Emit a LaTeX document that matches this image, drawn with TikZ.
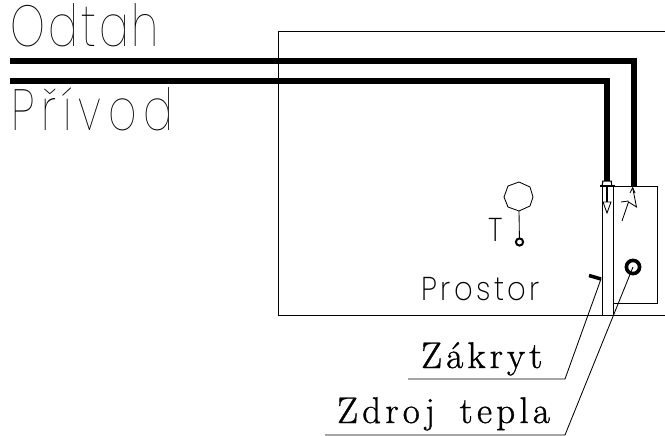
\documentclass[tikz,border=0pt]{standalone}
\usepackage{fontspec}
\newfontfamily\thinfont[LetterSpace=5.5,FakeStretch=0.76]{Poppins Thin}
\newfontfamily\thinwidefont[LetterSpace=12,FakeStretch=0.76]{Poppins Thin}
\newfontfamily\midfont[LetterSpace=10.5,FakeStretch=0.88]{Poppins ExtraLight}
\newfontfamily\labelfont[LetterSpace=11.5,FakeBold=1]{Latin Modern Roman}
\usepackage{tikz}

\begin{document}
\begin{tikzpicture}
	[x=1pt, y=-1pt, line cap=butt,
	every node/.style={inner sep=0pt, anchor=base west},
	wall/.style={draw, line width=0.85pt},
	pipe/.style={draw, line width=5.5pt, line join=miter},
	leader/.style={draw, line width=0.85pt},
	bigtext/.style={font=\thinfont\fontsize{58}{58}\selectfont},
	bigwidetext/.style={font=\thinwidefont\fontsize{58}{58}\selectfont},
	midtext/.style={font=\midfont\fontsize{33}{33}\selectfont},
	labeltext/.style={font=\labelfont\fontsize{37}{37}\selectfont}]
	\useasboundingbox (0,0) rectangle (665,436);
	% room
	\draw[wall] (665,31) -| (278,315) -- (665,315);
	% shield and heater
	\draw[wall] (602,186) -- (602,315);
	\draw[wall] (613,186) -- (613,315);
	\draw[wall] (602,186) -- (657,186) -- (657,303) -- (613,303);
	% pipes
	\coordinate (odtahstart) at (10,61);
	\coordinate (odtahend) at (634,186);
	\coordinate (privodstart) at (10,81);
	\coordinate (privodend) at (607,181);
	\draw[pipe] (odtahstart) -| (odtahend);
	\draw[pipe] (privodstart) -| (privodend);
	% valve
	\draw[line width=1.5pt] (600,186) -- (615,186);
	\draw[line width=1pt] (602,181) -- (612,181) (603,181) -- (602,186) (611,181) -- (612,186);
	% flow arrow
	\draw[line width=1.1pt] (607,186) -- (607,203);
	\draw[line width=0.85pt, fill=white] (603,202) -- (611,202) -- (607,213) -- cycle;
	% flame
	\draw[line width=0.85pt] (622,221) -- (628.5,202) -- (636.5,207) -- (632.7,188);
	\draw[line width=0.85pt] (621,202) -- (628.5,201);
	\draw[line width=0.85pt] (630,193) -- (632.7,187.7) -- (635,193);
	% sensor
	\coordinate (sensortop) at (519,211);
	\coordinate (sensorbulb) at (519.5,242);
	\draw[wall] (519,182) -- (530,187) -- (533,197) -- (530,206) -- (519,211) -- (508,207) -- (504,197) -- (508,186) -- cycle;
	\draw[wall] (sensortop) -- (sensorbulb);
	\draw[line width=2pt, fill=white] (sensorbulb) circle (3.6);
	% heat source and shield mark
	\coordinate (source) at (633,267);
	\coordinate (mark) at (601,279);
	\draw[line width=3.6pt] (source) circle (6.6);
	\draw[line width=3.5pt] (589,275.5) -- (mark);
	% leaders
	\coordinate (zakrytknee) at (565,379);
	\coordinate (zakrytend) at (408,379);
	\coordinate (zdrojknee) at (565,435);
	\coordinate (zdrojend) at (325,435);
	\draw[leader] (mark) -- (zakrytknee) -- (zakrytend);
	\draw[leader] (source) -- (zdrojknee) -- (zdrojend);
	% texts
	\node[bigtext] (odtah) at (10,47) {Odtah};
	\node[bigwidetext] (privod) at (11,131) {Přívod};
	\node[midtext] (prostor) at (421,300) {Prostor};
	\node[midtext] (teplota) at (488,241) {T};
	\node[labeltext] (zakryt) at (421,368) {Zákryt};
	\node[labeltext] (zdroj) at (337,423) {Zdroj\hspace{9pt} tepla};
\end{tikzpicture}
\end{document}
